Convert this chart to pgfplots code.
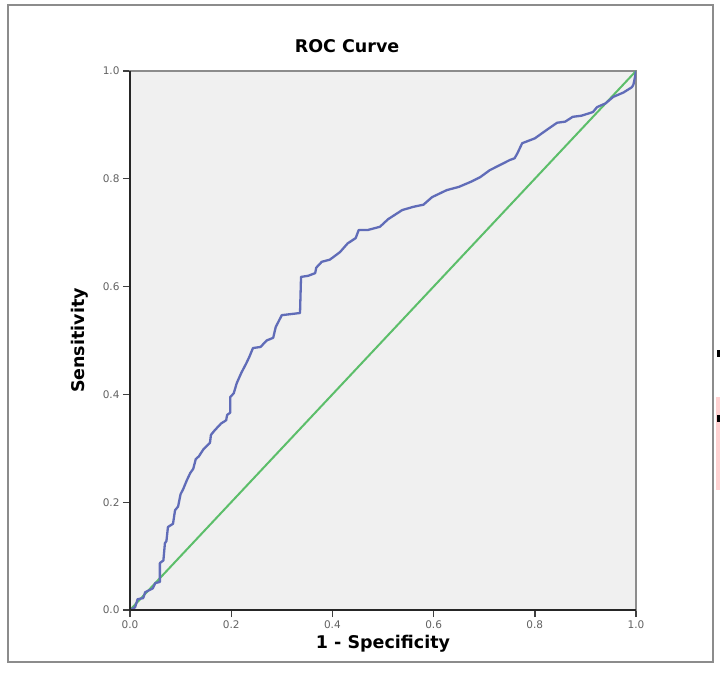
\documentclass[border=0pt]{standalone}
\usepackage{pgfplots}
\pgfplotsset{compat=1.18}
\usepackage{fontspec}
\setmainfont{DejaVu Sans}
\definecolor{roc}{RGB}{96,108,184}
\definecolor{refl}{RGB}{92,190,106}
\definecolor{bg}{RGB}{240,240,240}
\begin{document}
\begin{tikzpicture}
\begin{axis}[
  scale only axis, width=506pt, height=539pt,
  xmin=0, xmax=1, ymin=0, ymax=1,
  axis background/.style={fill=bg},
  axis line style={draw=black!45, line width=1.8pt},
  xtick={0,0.2,0.4,0.6,0.8,1},
  ytick={0,0.2,0.4,0.6,0.8,1},
  xticklabels={0.0,0.2,0.4,0.6,0.8,1.0},
  yticklabels={0.0,0.2,0.4,0.6,0.8,1.0},
  tick align=outside, tick pos=left, major tick length=7pt,
  tick style={black!75, line width=1.4pt},
  ticklabel style={font=\fontsize{10.5}{11}\selectfont, text=black!62},
  title={\textbf{ROC Curve}},
  title style={font=\fontsize{17.5}{18}\selectfont, at={(axis description cs:0.429,1.035)}, anchor=center},
  xlabel={\textbf{1 - Specificity}},
  xlabel style={font=\fontsize{17.5}{18}\selectfont, at={(axis description cs:0.5,-0.062)}, anchor=center},
  ylabel={\textbf{Sensitivity}},
  ylabel style={font=\fontsize{17.5}{18}\selectfont, at={(axis description cs:-0.099,0.5)}, anchor=center},
]
\coordinate (ll) at (rel axis cs:0,0);
\coordinate (ur) at (rel axis cs:1,1);
\addplot[refl, line width=2pt] coordinates {(0,0) (1,1)};
\addplot[roc, line width=2.3pt, line join=round] coordinates {
(0,0) (0.010,0.005) (0.015,0.020) (0.026,0.022) (0.030,0.033) (0.045,0.040)
(0.050,0.050) (0.059,0.052) (0.059,0.087) (0.066,0.092) (0.069,0.124)
(0.072,0.128) (0.075,0.154) (0.085,0.160) (0.089,0.185) (0.095,0.192)
(0.100,0.215) (0.105,0.224) (0.112,0.240) (0.119,0.254) (0.125,0.262)
(0.130,0.280) (0.136,0.285) (0.145,0.298) (0.158,0.310) (0.160,0.325)
(0.168,0.334) (0.180,0.346) (0.190,0.352) (0.192,0.362) (0.198,0.366)
(0.198,0.395) (0.205,0.402) (0.211,0.421) (0.220,0.440) (0.230,0.458)
(0.236,0.470) (0.243,0.486) (0.258,0.488) (0.270,0.500) (0.283,0.505)
(0.288,0.525) (0.300,0.547) (0.336,0.551) (0.338,0.618) (0.352,0.620)
(0.366,0.625) (0.368,0.635) (0.379,0.646) (0.395,0.650) (0.415,0.664)
(0.430,0.680) (0.446,0.690) (0.452,0.705) (0.470,0.705) (0.494,0.711)
(0.510,0.725) (0.538,0.742) (0.560,0.748) (0.580,0.752) (0.597,0.766)
(0.626,0.779) (0.650,0.785) (0.675,0.795) (0.692,0.803) (0.711,0.816)
(0.730,0.825) (0.751,0.835) (0.760,0.838) (0.766,0.848) (0.775,0.866)
(0.800,0.875) (0.824,0.891) (0.844,0.904) (0.860,0.906) (0.875,0.915)
(0.892,0.917) (0.909,0.922) (0.915,0.924) (0.923,0.933) (0.940,0.940)
(0.955,0.952) (0.975,0.960) (0.992,0.970) (0.995,0.975) (0.998,0.989) (1,1)
};
\end{axis}
\draw[black!85, line width=1.8pt] (ur |- ll) -- (ll) -- (ll |- ur);
\draw[black!45, line width=1.6pt] ([shift={(-122pt,-52pt)}]ll) rectangle ([shift={(77pt,66pt)}]ur);
\fill[red!18] ([shift={(80pt,-326pt)}]ur) rectangle ([shift={(84pt,-419pt)}]ur);
\fill[black] ([shift={(81pt,-279pt)}]ur) rectangle ([shift={(84pt,-286pt)}]ur);
\fill[black] ([shift={(81pt,-344pt)}]ur) rectangle ([shift={(84pt,-351pt)}]ur);
\path ([shift={(-130pt,-81pt)}]ll) rectangle ([shift={(84pt,71pt)}]ur);
\end{tikzpicture}
\end{document}
